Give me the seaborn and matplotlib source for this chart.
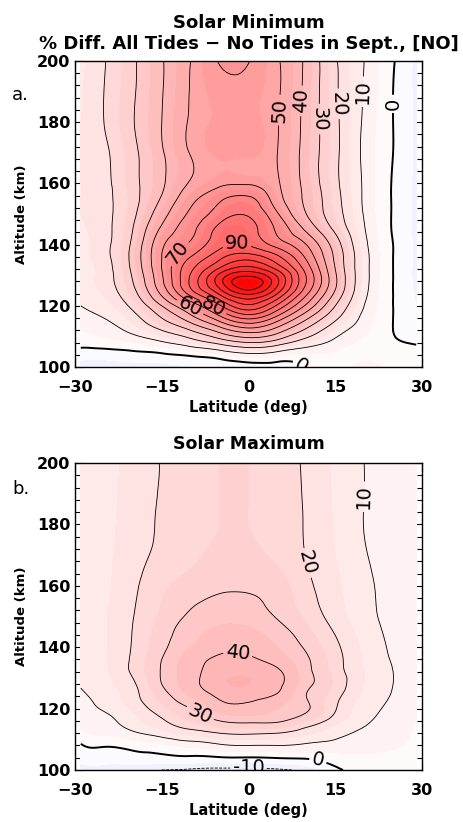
import numpy as np
import matplotlib
matplotlib.use("Agg")
import matplotlib.pyplot as plt
import matplotlib.tri as mtri
import seaborn as sns

sns.set_theme(style="ticks")
plt.rcParams['font.family'] = ['DejaVu Sans']
plt.rcParams['text.color'] = 'black'
plt.rcParams['axes.labelcolor'] = 'black'
plt.rcParams['xtick.color'] = 'black'
plt.rcParams['ytick.color'] = 'black'

# ---------------- data ----------------
lats = [-29, -25, -20, -15, -10, -5, 0, 5, 10, 15, 20, 25, 29]
alts = [100, 104, 108, 112, 116, 120, 124, 128, 132, 136, 140, 145, 150, 155, 160,
        170, 180, 190, 200]

# Panel a: Solar minimum (% difference), rows = altitudes, cols = latitudes
solmin_100 = [-7, -7, -6.5, -6, -5, -4, -3, -2, 0.5, 3, 6, 4, 3]
solmin_104 = [-3, -3, -2, -1, 1, 4, 8, 6, 4, 4, 4, 3, 2]
solmin_108 = [2, 3, 5, 9, 15, 23, 30, 25, 15, 8, 4, 1, -0.5]
solmin_112 = [5, 7, 12, 20, 30, 44, 55, 45, 28, 14, 6, 0, -3]
solmin_116 = [8, 10, 17, 30, 46, 66, 82, 66, 42, 22, 8, 0, -4.5]
solmin_120 = [10, 13, 22, 40, 62, 88, 108, 88, 58, 30, 10, 0, -5]
solmin_124 = [11.5, 15.5, 27, 52, 84, 112, 132, 110, 72, 38, 12, 0, -5.5]
solmin_128 = [12, 17, 30, 58, 92, 126, 148, 122, 80, 42, 13, 0, -6]
solmin_132 = [12.5, 17, 32, 60, 88, 112, 125, 108, 76, 40, 13, 0, -6]
solmin_136 = [13, 18, 33, 60, 80, 97, 105, 92, 68, 38, 13, 0, -6]
solmin_140 = [13, 18, 32, 58, 72, 87, 89, 76, 60, 35, 12, 0, -6]
solmin_145 = [14, 18, 30, 52, 67, 83, 84, 68, 48, 28, 10.5, -0.5, -6]
solmin_150 = [15, 18, 28, 46, 62, 75, 79, 61, 40, 24, 9.5, -0.5, -6]
solmin_155 = [15, 18, 27, 41, 57, 68, 72, 54, 38, 23, 9, -0.5, -6]
solmin_160 = [15, 18, 27.5, 38.5, 51, 58, 59, 51, 37, 22, 9, -0.5, -6]
solmin_170 = [15, 18.5, 28, 39, 50.5, 56, 56, 50, 36.5, 22, 8.5, 0, -6]
solmin_180 = [15, 20, 29.5, 40, 51, 56, 56.5, 50.5, 37, 22, 9, 0, -6]
solmin_190 = [14.5, 20, 29, 39.5, 50.5, 57, 57, 51, 37.5, 21.5, 9.5, 0, -6]
solmin_200 = [14, 19.5, 28.7, 39.3, 50, 60.5, 60.3, 51, 38, 21, 10, 0.5, -6]

# Panel b: Solar maximum
solmax_100 = [-8, -8, -8.5, -10, -11, -12, -12, -11, -8, -1, 1, 1, 0.5]
solmax_104 = [-3, -2.5, -2, -1.5, -1, -0.5, -0.3, 0.3, 0.8, 3, 4, 3.5, 3]
solmax_108 = [-0.5, 0.5, 2, 4, 6.5, 9, 10, 10, 9, 8, 7, 5.5, 4]
solmax_112 = [4, 6, 9, 13, 17, 20, 21, 20, 16, 12, 9, 6.5, 4.5]
solmax_116 = [6, 8.5, 13, 19, 25, 30, 31.5, 31, 25, 17, 11, 7.5, 5]
solmax_120 = [7.5, 10.5, 16, 23.5, 30, 37, 38, 35, 31, 20.5, 12.5, 8.5, 5.5]
solmax_124 = [9, 12, 18, 27, 35, 41, 42, 39, 30, 22, 14, 9.5, 6]
solmax_128 = [10.5, 13.5, 19, 30, 38, 44, 45, 41.5, 32, 24, 15, 10, 6]
solmax_132 = [11.5, 14, 21, 30.5, 38, 43, 44, 41, 32, 23, 15, 10, 6]
solmax_136 = [12, 14.5, 21, 30, 37.5, 41, 41, 37.5, 31, 22.5, 14.5, 9.5, 6]
solmax_140 = [12, 14.5, 20.5, 28.5, 35, 38.5, 38.5, 35, 29, 21.5, 14, 9, 6]
solmax_145 = [12, 14.5, 20.2, 27.5, 33, 36, 36, 32.5, 26.5, 19.5, 13, 8.5, 5.5]
solmax_150 = [12, 14.5, 19.8, 26, 31, 33.5, 33, 29.5, 24, 17.5, 12, 8, 5]
solmax_155 = [12, 14.2, 19.3, 25, 29, 31, 31, 28, 22.5, 16.5, 11.7, 7.7, 5]
solmax_160 = [11.8, 14, 18.8, 24, 27, 29, 29, 27, 21.5, 16, 11.5, 7.5, 5]
solmax_170 = [11.6, 13.8, 17.8, 21.4, 24, 26, 26, 24, 19.8, 15, 10.5, 7, 5]
solmax_180 = [11.5, 13.6, 17.2, 20.8, 23.5, 25, 25, 23, 19.5, 14.5, 9.9, 7, 5]
solmax_190 = [11.5, 13.5, 16.8, 20.5, 23.2, 25, 25, 23, 19.3, 14.3, 10, 7, 5]
solmax_200 = [11.5, 13.5, 16.5, 20.3, 23, 25, 25, 23, 19, 14, 10, 7, 5]

contour_levels = [-10, 0, 10, 20, 30, 40, 50, 60, 70, 80, 90, 100, 110, 120, 130, 140]

# label anchor points (lat, alt) as seen in the reference
solmin_label_pts = [(4.7, 184), (9, 187), (11.8, 181), (15.5, 186), (19.3, 190), (25, 186),
                    (-12, 137), (-2, 139), (-10, 120), (-6, 120), (9.5, 101.5)]
solmax_label_pts = [(20, 189), (9.3, 167), (-2, 136), (-8.3, 118.5), (0, 101), (12, 103)]

solmin = np.array([solmin_100, solmin_104, solmin_108, solmin_112, solmin_116, solmin_120,
                   solmin_124, solmin_128, solmin_132, solmin_136, solmin_140, solmin_145,
                   solmin_150, solmin_155, solmin_160, solmin_170, solmin_180, solmin_190,
                   solmin_200])
solmax = np.array([solmax_100, solmax_104, solmax_108, solmax_112, solmax_116, solmax_120,
                   solmax_124, solmax_128, solmax_132, solmax_136, solmax_140, solmax_145,
                   solmax_150, solmax_155, solmax_160, solmax_170, solmax_180, solmax_190,
                   solmax_200])

fig = plt.figure(figsize=(4.63, 8.22), dpi=100)
ax_a = fig.add_axes([75/463, 1-367/822, 347/463, 306/822])
ax_b = fig.add_axes([75/463, 1-770/822, 347/463, 307/822])

fill_levels = np.arange(-160, 165, 5)
cmap = plt.get_cmap('bwr')

LAT, ALT = np.meshgrid(lats, alts)
tri = mtri.Triangulation(LAT.ravel(), ALT.ravel())
refiner = mtri.UniformTriRefiner(tri)

def draw(ax, Z, label_pts):
    z = Z.ravel().astype(float)
    interp = mtri.CubicTriInterpolator(tri, z, kind='min_E')
    tri_r, z_r = refiner.refine_field(z, triinterpolator=interp, subdiv=3)
    ax.tricontourf(tri_r, z_r, levels=fill_levels, cmap=cmap, vmin=-150, vmax=150)
    lv = [l for l in contour_levels if Z.min() < l < Z.max()]
    widths = [1.4 if l == 0 else 0.6 for l in lv]
    styles = ['--' if l < 0 else '-' for l in lv]
    cs = ax.tricontour(tri_r, z_r, levels=lv, colors='black', linewidths=widths,
                       linestyles=styles)
    ax.clabel(cs, fmt='%d', fontsize=14, inline=True, manual=label_pts, inline_spacing=3)
    ax.set_xlim(-30, 30)
    ax.set_ylim(100, 200)
    ax.set_xticks([-30, -15, 0, 15, 30])
    ax.set_xticks(np.arange(-30, 31, 5), minor=True)
    ax.set_yticks(np.arange(100, 201, 20))
    ax.set_yticks(np.arange(100, 201, 4), minor=True)
    ax.tick_params(which='both', direction='in', top=True, right=True, color='black',
                   labelsize=11.5, width=0.8)
    ax.tick_params(which='major', length=6)
    ax.tick_params(which='minor', length=3.5)
    ax.tick_params(axis='x', pad=9)
    ax.set_yticklabels([str(v) for v in range(100, 201, 20)], fontweight='bold')
    ax.set_xticklabels(['\u221230', '\u221215', '0', '15', '30'], fontweight='bold')
    for s in ax.spines.values():
        s.set_color('black')
        s.set_linewidth(1.0)
    ax.set_xlabel('Latitude (deg)', fontsize=10.5, fontweight='bold', labelpad=4)
    ax.set_ylabel('Altitude (km)', fontsize=9.5, fontweight='bold', labelpad=6)

draw(ax_a, solmin, solmin_label_pts)
draw(ax_b, solmax, solmax_label_pts)

ax_a.set_title('Solar Minimum\n% Diff. All Tides \u2212 No Tides in Sept., [NO]',
               fontsize=13, fontweight='bold', pad=9, linespacing=1.15)
ax_b.set_title('Solar Maximum', fontsize=12.5, fontweight='bold', pad=10)

fig.text(12/463, 1-100/822, 'a.', fontsize=13)
fig.text(12/463, 1-494/822, 'b.', fontsize=13)

fig.savefig('out.png', dpi=100)
